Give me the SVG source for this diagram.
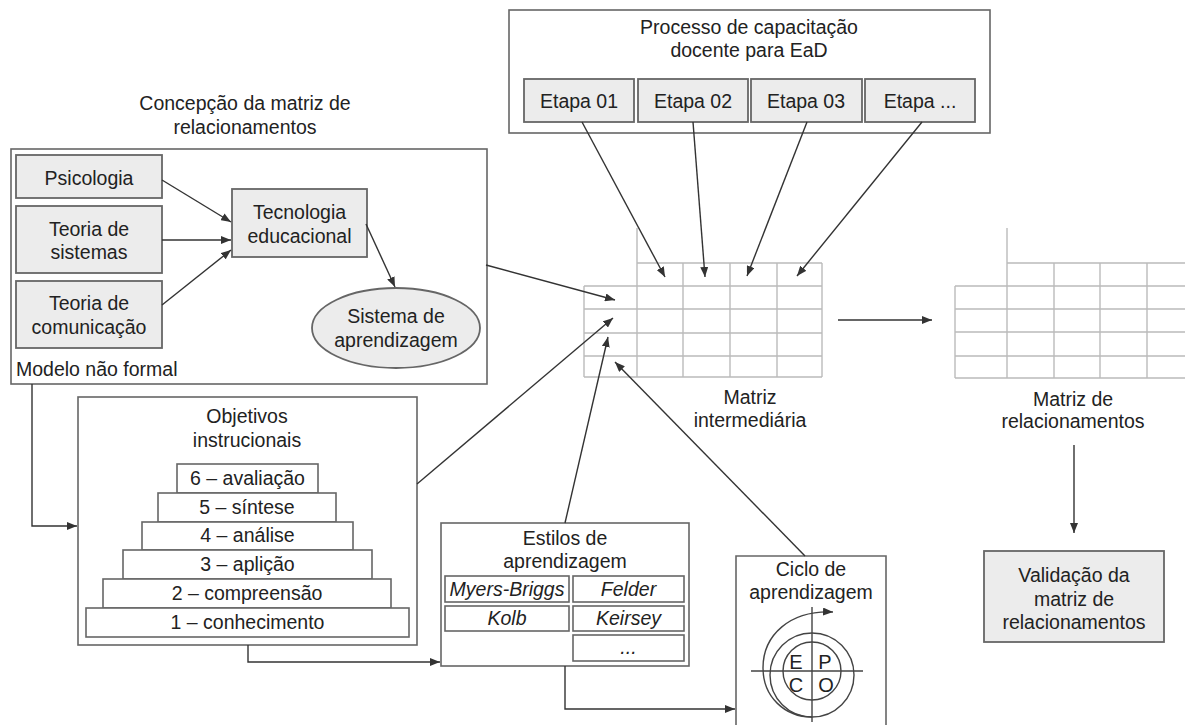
<svg xmlns="http://www.w3.org/2000/svg" width="1185" height="725" viewBox="0 0 1185 725">
<defs>
<marker id="ah" markerWidth="10" markerHeight="8" refX="10" refY="4" orient="auto" markerUnits="userSpaceOnUse">
<path d="M0,0 L10,4 L0,8 z" fill="#333"/>
</marker>
<style>
text{font-family:"Liberation Sans",Arial,sans-serif;font-size:19.5px;fill:#222;text-anchor:middle}
.l{text-anchor:start}
.it{font-style:italic}
.box{fill:#fff;stroke:#666;stroke-width:1.6}
.gbox{fill:#ececec;stroke:#666;stroke-width:1.8}
.con{fill:none;stroke:#333;stroke-width:1.4}
.arr{fill:none;stroke:#333;stroke-width:1.4;marker-end:url(#ah)}
.grid{fill:none;stroke:#bbb;stroke-width:1.4}
.cyc{fill:none;stroke:#444;stroke-width:1.4}
.epco{font-size:20px}
</style>
</defs>
<rect width="1185" height="725" fill="#fff"/>

<g id="processo">
<rect class="box" x="509" y="10" width="481" height="123"/>
<text x="749" y="34">Processo de capacitação</text>
<text x="749" y="57">docente para EaD</text>
</g>
<g id="etapa01"><rect class="gbox" x="524" y="79" width="110" height="43"/><text x="579" y="108">Etapa 01</text></g>
<g id="etapa02"><rect class="gbox" x="638" y="79" width="110" height="43"/><text x="693" y="108">Etapa 02</text></g>
<g id="etapa03"><rect class="gbox" x="751" y="79" width="111" height="43"/><text x="806" y="108">Etapa 03</text></g>
<g id="etapaN"><rect class="gbox" x="865" y="79" width="110" height="43"/><text x="920" y="108">Etapa ...</text></g>

<g id="concepcao">
<text x="245" y="110">Concepção da matriz de</text>
<text x="245" y="134">relacionamentos</text>
<rect class="box" x="11" y="149" width="476" height="235"/>
<text class="l" x="16" y="376">Modelo não formal</text>
</g>
<g id="psicologia"><rect class="gbox" x="16" y="155" width="146" height="43"/><text x="89" y="185">Psicologia</text></g>
<g id="sistemas"><rect class="gbox" x="16" y="206" width="146" height="67"/><text x="89" y="236">Teoria de</text><text x="89" y="259">sistemas</text></g>
<g id="comunicacao"><rect class="gbox" x="16" y="281" width="146" height="67"/><text x="89" y="310">Teoria de</text><text x="89" y="334">comunicação</text></g>
<g id="tecnologia"><rect class="gbox" x="232" y="189" width="135" height="68"/><text x="299.5" y="219">Tecnologia</text><text x="299.5" y="243">educacional</text></g>
<g id="sistema"><ellipse class="gbox" cx="396" cy="328" rx="84" ry="40"/><text x="396" y="323">Sistema de</text><text x="396" y="347">aprendizagem</text></g>

<g id="matriz-intermediaria">
<path class="grid" d="M637,228 V377 M683,263 V377 M730,263 V377 M777,263 V377 M822,263 V377 M584,286 V377 M637,263 H822 M584,286 H822 M584,309 H822 M584,333 H822 M584,356 H822 M584,377 H822"/>
<text x="750" y="404">Matriz</text>
<text x="750" y="427">intermediária</text>
</g>

<g id="matriz-relacionamentos">
<path class="grid" d="M1007,228 V378 M1054,263 V378 M1100,263 V378 M1147,263 V378 M955,286 V378 M1007,263 H1185 M955,286 H1185 M955,309 H1185 M955,332 H1185 M955,356 H1185 M955,378 H1185"/>
<text x="1073" y="406">Matriz de</text>
<text x="1073" y="428">relacionamentos</text>
</g>

<g id="validacao"><rect class="gbox" x="984" y="551" width="180" height="91"/><text x="1074" y="582">Validação da</text><text x="1074" y="606">matriz de</text><text x="1074" y="629">relacionamentos</text></g>

<g id="objetivos">
<rect class="box" x="78" y="397" width="339" height="248"/>
<text x="247" y="423">Objetivos</text>
<text x="247" y="447">instrucionais</text>
<rect class="box" x="177" y="464" width="141" height="29"/><text x="247.5" y="485">6 – avaliação</text>
<rect class="box" x="158" y="493" width="178" height="29"/><text x="247" y="514">5 – síntese</text>
<rect class="box" x="142" y="522" width="211" height="28"/><text x="247.5" y="542">4 – análise</text>
<rect class="box" x="123" y="550" width="249" height="29"/><text x="247.5" y="571">3 – aplição</text>
<rect class="box" x="103" y="579" width="288" height="29"/><text x="247" y="600">2 – compreensão</text>
<rect class="box" x="86" y="608" width="323" height="29"/><text x="247.5" y="629">1 – conhecimento</text>
</g>

<g id="estilos">
<rect class="box" x="441" y="523" width="248" height="143"/>
<text x="565" y="545">Estilos de</text>
<text x="565" y="568">aprendizagem</text>
<rect class="box" x="445" y="576" width="124" height="26"/><text class="it" x="507" y="596">Myers-Briggs</text>
<rect class="box" x="573" y="576" width="111" height="26"/><text class="it" x="628.5" y="596">Felder</text>
<rect class="box" x="445" y="606" width="124" height="25"/><text class="it" x="507" y="625">Kolb</text>
<rect class="box" x="573" y="606" width="111" height="25"/><text class="it" x="628.5" y="625">Keirsey</text>
<rect class="box" x="573" y="635" width="111" height="26"/><text class="it" x="628.5" y="654">...</text>
</g>

<g id="ciclo">
<path class="box" d="M736,726 V556 H886 V726"/>
<text x="811" y="576">Ciclo de</text>
<text x="811" y="599">aprendizagem</text>
<path class="cyc" d="M812,607 V722 M751,671 H863"/>
<circle class="cyc" cx="812" cy="671" r="29"/>
<circle class="cyc" cx="812" cy="675" r="42"/>
<path class="cyc" d="M812,717 C785,717 763,697 763,668 C763,635 790,610 833,612" marker-end="url(#ah)"/>
<text class="epco" x="796" y="669">E</text>
<text class="epco" x="825" y="669">P</text>
<text class="epco" x="796" y="692">C</text>
<text class="epco" x="826" y="692">O</text>
</g>

<g id="connectors">
<line class="arr" x1="162" y1="180" x2="231" y2="222"/>
<line class="arr" x1="162" y1="240" x2="231" y2="240"/>
<line class="arr" x1="162" y1="305" x2="231" y2="250"/>
<line class="arr" x1="366" y1="224" x2="395" y2="287"/>
<line class="arr" x1="486" y1="265" x2="615" y2="300"/>
<polyline class="arr" points="32,384 32,526 77,526"/>
<line class="arr" x1="417" y1="484" x2="613" y2="318"/>
<polyline class="arr" points="248,645 248,662 440,662"/>
<line class="arr" x1="565" y1="523" x2="608" y2="337"/>
<polyline class="arr" points="565,666 565,709 735,709"/>
<line class="arr" x1="805" y1="556" x2="615" y2="362"/>
<line class="arr" x1="582" y1="122" x2="665" y2="277"/>
<line class="arr" x1="693" y1="122" x2="705" y2="277"/>
<line class="arr" x1="807" y1="122" x2="747" y2="276"/>
<line class="arr" x1="922" y1="122" x2="797" y2="276"/>
<line class="arr" x1="838" y1="320" x2="932" y2="320"/>
<line class="arr" x1="1074" y1="445" x2="1074" y2="533"/>
</g>
</svg>
